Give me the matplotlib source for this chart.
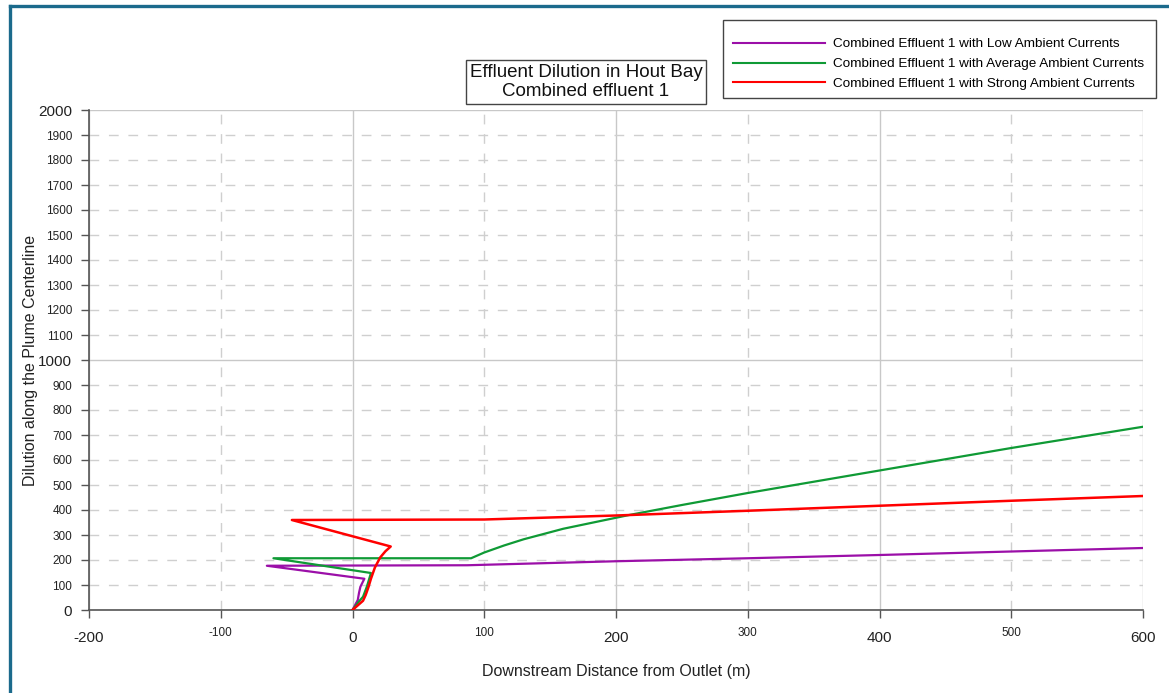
import numpy as np
import matplotlib
matplotlib.use("Agg")
import matplotlib.pyplot as plt
from matplotlib.ticker import MultipleLocator, FuncFormatter
from matplotlib.lines import Line2D
from matplotlib.patches import Rectangle

plt.rcParams['font.family'] = ['Liberation Sans', 'DejaVu Sans']
plt.rcParams['axes.unicode_minus'] = False

# plume trajectories: downstream distance (m) vs centreline dilution
low_x = [0, 4, 5, 6, 9, -65, 87, 200, 300, 400, 500, 600]
low_y = [0, 40, 70, 93, 125, 177, 179, 195, 207, 220, 234, 248]

avg_x = [0, 5, 8, 11, 14, -60, 90, 100, 115, 130, 160, 210, 250, 300, 400, 500, 600]
avg_y = [0, 35, 53, 95, 148, 207, 207, 230, 258, 283, 325, 380, 420, 468, 558, 648, 733]

strong_x = [0, 8, 10, 12, 14, 17, 21, 25, 29, -46, 100, 200, 300, 400, 500, 600]
strong_y = [0, 37, 60, 90, 125, 170, 210, 235, 254, 360, 362, 378, 397, 417, 437, 456]

labels = ["Combined Effluent 1 with Low Ambient Currents",
          "Combined Effluent 1 with Average Ambient Currents",
          "Combined Effluent 1 with Strong Ambient Currents"]
colors = ["#9b0fa8", "#0f9a35", "#ff0000"]

W, H = 1169, 693
fig = plt.figure(figsize=(W / 100, H / 100), dpi=100)
ax = fig.add_axes([89 / W, 1 - 610 / H, (1143 - 89) / W, 500 / H])

ax.plot(low_x, low_y, color=colors[0], lw=1.6, zorder=3)
ax.plot(avg_x, avg_y, color=colors[1], lw=1.6, zorder=3)
ax.plot(strong_x, strong_y, color=colors[2], lw=1.8, zorder=3)

ax.set_xlim(-200, 600)
ax.set_ylim(0, 2000)

ax.xaxis.set_major_locator(MultipleLocator(200))
ax.xaxis.set_minor_locator(MultipleLocator(100))
ax.yaxis.set_major_locator(MultipleLocator(1000))
ax.yaxis.set_minor_locator(MultipleLocator(100))


def minor_x(v, pos):
    return "" if round(v) % 200 == 0 else "%d" % round(v)


def minor_y(v, pos):
    return "" if round(v) % 1000 == 0 else "%d" % round(v)


ax.xaxis.set_minor_formatter(FuncFormatter(minor_x))
ax.yaxis.set_minor_formatter(FuncFormatter(minor_y))

ax.tick_params(axis='both', which='major', labelsize=11, length=6, width=1,
               color="#555555", labelcolor="#222222")
ax.tick_params(axis='both', which='minor', labelsize=8.5, length=6, width=1,
               color="#555555", labelcolor="#222222")
ax.tick_params(axis='x', which='major', pad=9)
ax.tick_params(axis='x', which='minor', pad=6)
ax.tick_params(axis='y', which='both', pad=6)

ax.grid(which='major', color="#c8c8c8", lw=1, ls='-', zorder=0)
ax.grid(which='minor', color="#cfcfcf", lw=1, ls=(0, (7, 7)), zorder=0)
ax.set_axisbelow(True)

for s in ['top', 'right']:
    ax.spines[s].set_visible(False)
for s in ['left', 'bottom']:
    ax.spines[s].set_color("#555555")
    ax.spines[s].set_linewidth(1.2)

ax.set_xlabel("Downstream Distance from Outlet (m)", fontsize=11.5, labelpad=14,
              color="#222222")
ax.set_ylabel("Dilution along the Plume Centerline", fontsize=11.5, color="#222222")
ax.yaxis.set_label_coords((38 - 89) / 1054, 0.5)

# title box
fig.text(586 / W, 1 - 82 / H, "Effluent Dilution in Hout Bay\nCombined effluent 1",
         ha='center', va='center', fontsize=13.5, linespacing=1.2, color="#111111",
         bbox=dict(boxstyle='square,pad=0.2', fc='white', ec="#444444", lw=1))

# legend with a hand-drawn frame
fig.add_artist(Rectangle((723 / W, 1 - 98 / H), (1156 - 723) / W, 78 / H,
                         transform=fig.transFigure, fc='white', ec="#444444",
                         lw=1, zorder=4))
handles = [Line2D([], [], color=c, lw=1.5) for c in colors]
leg = fig.legend(handles, labels, loc='upper left',
                 bbox_to_anchor=(733 / W, 1 - 38 / H),
                 fontsize=9.7, handlelength=6.8, handletextpad=0.65,
                 labelspacing=0.55, frameon=False, borderpad=0, borderaxespad=0)
leg.set_zorder(5)

# outer border
fig.add_artist(Line2D([10 / W, 10 / W], [0, 1 - 6 / H],
                      transform=fig.transFigure, color="#1b6a8c", lw=2.4))
fig.add_artist(Line2D([10 / W, 1], [1 - 6 / H, 1 - 6 / H],
                      transform=fig.transFigure, color="#1b6a8c", lw=2.4))

fig.savefig("out.png", dpi=100)
